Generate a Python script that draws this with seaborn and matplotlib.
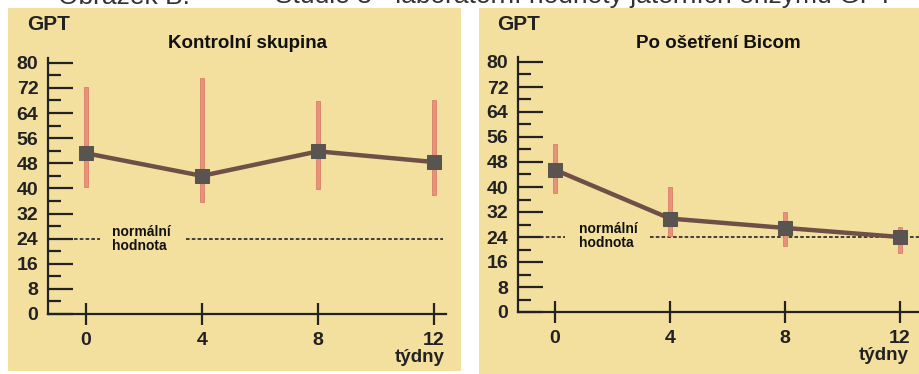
import matplotlib
matplotlib.use("Agg")
import matplotlib.pyplot as plt
from matplotlib.patches import Rectangle
import seaborn as sns
import pandas as pd

# ---- data ----
weeks = [0, 4, 8, 12]
ctrl_mean = [51.2, 44.0, 51.8, 48.4]
ctrl_low = [40.3, 35.6, 39.8, 37.9]
ctrl_high = [72.2, 75.2, 67.9, 68.3]
bicom_mean = [45.5, 29.9, 26.9, 24.0]
bicom_low = [38.2, 24.4, 21.2, 18.9]
bicom_high = [53.6, 40.0, 32.0, 27.2]
normal_value = 24
yticks = [0, 8, 16, 24, 32, 40, 48, 56, 64, 72, 80]
xticks = [0, 4, 8, 12]
titles = ["Kontrolní skupina", "Po ošetření Bicom"]
heading_parts = ["Obrázek B:", "Studie 3 - laboratorní hodnoty jaterních enzymů GPT"]

sns.set_theme(style="ticks")
plt.rcParams["font.family"] = ["Liberation Sans", "DejaVu Sans"]

W, H = 919, 374
BG = "#F3DF9E"
LINE = "#6E5046"
MARK = "#5A5450"
BAR = "#E8917B"
BAR_EDGE = "#D8806A"
DARK = "#222222"

fig = plt.figure(figsize=(W / 100, H / 100), dpi=100)
fig.patch.set_facecolor("white")

# cropped heading (only lower part visible)
for xpx, part in zip([58, 275], heading_parts):
    fig.text(xpx / W, 1 - 3.5 / H, part, fontsize=19, color="#333333",
             ha="left", va="baseline", zorder=1)

# panel backgrounds
for (x0, y0, x1, y1) in [(8, 8, 461, 371), (479, 8, 919, 374)]:
    fig.add_artist(Rectangle((x0 / W, 1 - y1 / H), (x1 - x0) / W, (y1 - y0) / H,
                             transform=fig.transFigure, fc=BG, ec="none", zorder=2))

panels = [
    dict(mean=ctrl_mean, low=ctrl_low, high=ctrl_high, title=titles[0],
         spine_x=48, right=446, y0=314, ytop=58, x0px=86, x12px=434, yscale=3.14,
         gpt_x=27, title_x=248, tydny=(445, 358),
         dots=[(-0.41, 0.48), (3.45, 12.31)], norm_txt=(112, 239)),
    dict(mean=bicom_mean, low=bicom_low, high=bicom_high, title=titles[1],
         spine_x=518, right=919, y0=312, ytop=57, x0px=555, x12px=900, yscale=3.125,
         gpt_x=497, title_x=718, tydny=(909, 356),
         dots=[(-0.52, 0.35), (3.30, 12.7)], norm_txt=(579, 236)),
]

for p in panels:
    left = p["spine_x"]
    right = p["right"]
    ax = fig.add_axes([left / W, (H - p["y0"]) / H, (right - left) / W, (p["y0"] - p["ytop"]) / H])
    ax.set_zorder(3)
    ax.patch.set_alpha(0)
    pxu = (p["x12px"] - p["x0px"]) / 12.0
    ax.set_xlim((left - p["x0px"]) / pxu, (right - p["x0px"]) / pxu)
    ax.set_ylim(0, (p["y0"] - p["ytop"]) / p["yscale"])

    # error bars as thin rectangles
    heights = [h - l for h, l in zip(p["high"], p["low"])]
    ax.bar(weeks, heights, bottom=p["low"], width=0.17, color=BAR,
           edgecolor=BAR_EDGE, linewidth=0.6, zorder=2)

    df = pd.DataFrame({"week": weeks, "gpt": p["mean"]})
    sns.lineplot(data=df, x="week", y="gpt", ax=ax, color=LINE, linewidth=3.2,
                 marker="s", markersize=10, markerfacecolor=MARK,
                 markeredgecolor=MARK, zorder=3)

    # normal value dotted line
    for (a, b) in p["dots"]:
        ax.plot([a, b], [normal_value, normal_value], color="#333333",
                linewidth=1.3, linestyle=(0, (2, 1.2)), zorder=1.5)

    # spines / ticks
    for s in ["top", "right"]:
        ax.spines[s].set_visible(False)
    for s in ["left", "bottom"]:
        ax.spines[s].set_color(DARK)
        ax.spines[s].set_linewidth(1.6)
    ax.set_yticks(yticks)
    ax.set_yticks([v + 4 for v in yticks[:-1]], minor=True)
    ax.set_xticks(xticks)
    ax.tick_params(axis="y", which="major", direction="in", length=18, width=1.6,
                   color=DARK, pad=7, labelsize=14)
    ax.tick_params(axis="y", which="minor", direction="in", length=9.5, width=1.6,
                   color=DARK)
    ax.tick_params(axis="x", which="major", direction="inout", length=16, width=1.6,
                   color=DARK, pad=5, labelsize=14)
    for lab in ax.get_yticklabels() + ax.get_xticklabels():
        lab.set_fontweight("bold")
        lab.set_color(DARK)
    ax.set_xlabel("")
    ax.set_ylabel("")
    ax.grid(False)

    # texts
    fig.text(p["gpt_x"] / W, 1 - 24 / H, "GPT", fontsize=15, fontweight="bold",
             color=DARK, ha="left", va="center", zorder=4)
    fig.text(p["title_x"] / W, 1 - 43 / H, p["title"], fontsize=13.5, fontweight="bold",
             color="#111111", ha="center", va="center", zorder=4)
    fig.text(p["tydny"][0] / W, 1 - p["tydny"][1] / H, "týdny", fontsize=13.5,
             fontweight="bold", color=DARK, ha="right", va="center", zorder=4)
    fig.text(p["norm_txt"][0] / W, 1 - p["norm_txt"][1] / H, "normální\nhodnota",
             fontsize=10, fontweight="bold", color="#111111", ha="left", va="center",
             linespacing=1.0, zorder=4)

fig.savefig("out.png", dpi=100)
